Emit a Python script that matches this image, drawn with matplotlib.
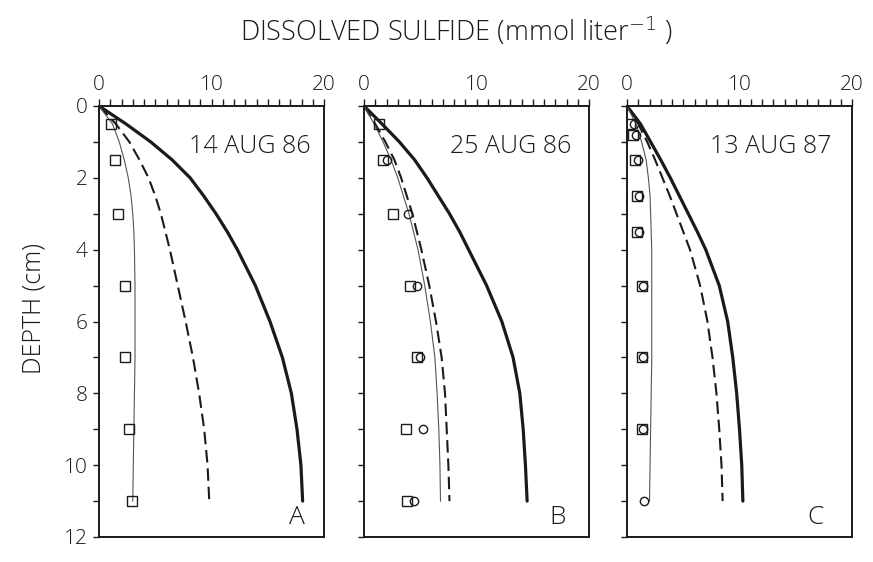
import matplotlib
matplotlib.use("Agg")
import matplotlib.pyplot as plt
import numpy as np

plt.rcParams['font.family'] = ['Open Sans', 'DejaVu Sans']
plt.rcParams['font.weight'] = 'light'

# Dissolved sulfide profiles (mmol/L) versus depth (cm) for three sampling dates
dates = ["14 AUG 86", "25 AUG 86", "13 AUG 87"]
panel_letters = ["A", "B", "C"]

# Model curves on a common depth grid (cm)
depth_grid = [0, 0.5, 1, 1.5, 2, 2.5, 3, 3.5, 4, 5, 6, 7, 8, 9, 10, 11]

thick_A = [0, 2.4, 4.6, 6.5, 8.1, 9.3, 10.4, 11.4, 12.3, 13.9, 15.2, 16.3, 17.1, 17.6, 17.95, 18.1]
dashed_A = [0, 1.5, 2.7, 3.6, 4.4, 5.0, 5.5, 5.9, 6.3, 7.0, 7.7, 8.35, 8.9, 9.35, 9.65, 9.8]
thin_A = [0, 1.2, 1.8, 2.25, 2.6, 2.85, 3.0, 3.1, 3.15, 3.2, 3.2, 3.2, 3.15, 3.1, 3.05, 3.0]

thick_B = [0, 1.6, 3.15, 4.5, 5.6, 6.6, 7.6, 8.5, 9.3, 10.9, 12.25, 13.25, 13.85, 14.15, 14.35, 14.5]
dashed_B = [0, 1.0, 1.9, 2.7, 3.3, 3.8, 4.3, 4.7, 5.1, 5.8, 6.4, 6.9, 7.2, 7.35, 7.5, 7.6]
thin_B = [0, 0.9, 1.7, 2.4, 3.0, 3.5, 4.0, 4.4, 4.8, 5.4, 5.9, 6.3, 6.5, 6.65, 6.75, 6.8]

thick_C = [0, 1.2, 2.1, 3.0, 3.85, 4.65, 5.45, 6.25, 7.0, 8.2, 8.95, 9.4, 9.75, 10.0, 10.2, 10.3]
dashed_C = [0, 1.0, 1.8, 2.5, 3.15, 3.8, 4.4, 5.0, 5.6, 6.5, 7.15, 7.6, 7.95, 8.2, 8.4, 8.5]
thin_C = [0, 0.8, 1.3, 1.7, 1.9, 2.05, 2.1, 2.15, 2.2, 2.2, 2.2, 2.2, 2.15, 2.1, 2.05, 2.0]

# Measured porewater sulfide: squares and circles
sq_depth_A = [0.5, 1.5, 3, 5, 7, 9, 11]
sq_A = [1.1, 1.4, 1.7, 2.3, 2.3, 2.7, 2.9]
ci_depth_A = []
ci_A = []

sq_depth_B = [0.5, 1.5, 3, 5, 7, 9, 11]
sq_B = [1.3, 1.7, 2.6, 4.1, 4.7, 3.7, 3.8]
ci_depth_B = [1.5, 3, 5, 7, 9, 11]
ci_B = [2.0, 3.9, 4.7, 5.0, 5.2, 4.4]

sq_depth_C = [0.5, 0.8, 1.5, 2.5, 3.5, 5, 7, 9]
sq_C = [0.3, 0.5, 0.7, 0.9, 0.9, 1.3, 1.3, 1.3]
ci_depth_C = [0.5, 0.8, 1.5, 2.5, 3.5, 5, 7, 9, 11]
ci_C = [0.6, 0.8, 1.0, 1.1, 1.1, 1.4, 1.4, 1.4, 1.5]

x_ticks = [0, 10, 20]
y_ticks = [0, 2, 4, 6, 8, 10, 12]

panels = [
    (thick_A, dashed_A, thin_A, sq_depth_A, sq_A, ci_depth_A, ci_A),
    (thick_B, dashed_B, thin_B, sq_depth_B, sq_B, ci_depth_B, ci_B),
    (thick_C, dashed_C, thin_C, sq_depth_C, sq_C, ci_depth_C, ci_C),
]

fig = plt.figure(figsize=(8.73, 5.62), dpi=100)
lefts = [99 / 873, 364 / 873, 627 / 873]
width = 225 / 873
bottom = 1 - 537 / 562
height = (537 - 106) / 562
date_x = [0.94, 0.92, 0.91]
letter_x = [0.88, 0.86, 0.84]

ink = "#1a1a1a"
for i, (left, data) in enumerate(zip(lefts, panels)):
    thick, dashed, thin, sqd, sqv, cid, civ = data
    d = depth_grid
    ax = fig.add_axes([left, bottom, width, height])
    ax.plot(thick, d, color=ink, lw=2.3, solid_capstyle="round",
            solid_joinstyle="round")
    ax.plot(dashed, d, color=ink, lw=1.5, dashes=(6, 2.8))
    ax.plot(thin, d, color="#555555", lw=0.8)
    ax.plot(sqv, sqd, ls="none", marker="s", ms=6.5, mfc="none", mec=ink, mew=1.0)
    if cid:
        ax.plot(civ, cid, ls="none", marker="o", ms=6, mfc="none", mec=ink, mew=1.0)

    ax.set_xlim(0, 20)
    ax.set_ylim(12, 0)
    ax.xaxis.tick_top()
    ax.set_xticks(x_ticks)
    ax.set_xticks(np.arange(0, 21, 1), minor=True)
    ax.set_yticks(y_ticks)
    ax.set_yticks(np.arange(0, 13, 1), minor=True)
    ax.tick_params(axis="x", which="both", direction="out", length=5, width=1.0,
                   colors=ink, labelsize=15, pad=3, top=True, bottom=False)
    ax.tick_params(axis="y", which="both", direction="out", length=4, width=1.0,
                   colors=ink, labelsize=15, pad=4, right=False)
    if i > 0:
        ax.set_yticklabels([])
    for sp in ax.spines.values():
        sp.set_linewidth(1.4)
        sp.set_color(ink)

    ax.text(date_x[i], 0.905, dates[i], transform=ax.transAxes, ha="right",
            va="center", fontsize=18, color=ink)
    ax.text(letter_x[i], 0.045, panel_letters[i], transform=ax.transAxes,
            ha="center", va="center", fontsize=19, color=ink)

fig.text(456 / 873, 1 - 32 / 562, "DISSOLVED SULFIDE (mmol liter$^{-1}$ )",
         ha="center", va="center", fontsize=19.5, color=ink)
fig.text(34 / 873, 1 - 308 / 562, "DEPTH (cm)", rotation=90,
         ha="center", va="center", fontsize=18, color=ink)

fig.savefig("out.png", dpi=100)
